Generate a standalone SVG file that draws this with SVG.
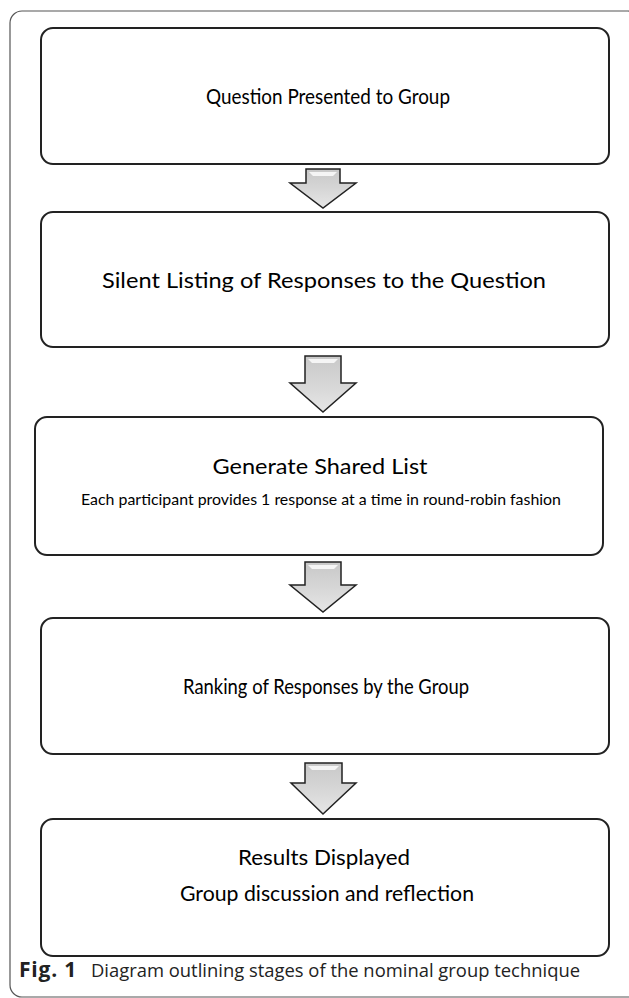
<svg xmlns="http://www.w3.org/2000/svg" width="629" height="998" viewBox="0 0 629 998">
<style>
.frame{fill:#fff;stroke:#555;stroke-width:1.2}
.box{fill:#fff;stroke:#222;stroke-width:2}
.arrow{fill:url(#ag);stroke:#222;stroke-width:1.5;stroke-linejoin:miter}
.hl{fill:#fafafa;stroke:none;opacity:0.9}
.t{font-family:Lato,"Open Sans","Liberation Sans",sans-serif;fill:#000;text-anchor:middle;font-size:22px}
.s{font-size:15px}
.cap{font-family:"Open Sans","Noto Sans","Liberation Sans",sans-serif;font-size:18.5px;fill:#222}
</style>
<defs>
<linearGradient id="ag" x1="0" y1="0" x2="0" y2="1">
<stop offset="0" stop-color="#c8c8c8"/>
<stop offset="0.5" stop-color="#d6d6d6"/>
<stop offset="1" stop-color="#e6e6e6"/>
</linearGradient>
</defs>
<rect class="frame" x="10" y="11" width="630" height="986" rx="12"/>
<g id="connectors">
<g id="arrow1">
<polygon class="arrow" points="306,169 340,169 340,183 356,183 323,208 290,183 306,183"/>
<polygon class="hl" points="309,172 337,172 333,176 313,176"/>
</g>
<g id="arrow2">
<polygon class="arrow" points="305,356 341,356 341,383 356,383 323,412 290,383 305,383"/>
<polygon class="hl" points="308,359 338,359 334,363 312,363"/>
</g>
<g id="arrow3">
<polygon class="arrow" points="305,562 341,562 341,585 356,585 323,612 290,585 305,585"/>
<polygon class="hl" points="308,565 338,565 334,569 312,569"/>
</g>
<g id="arrow4">
<polygon class="arrow" points="305,763 342,763 342,783 356,783 323,814 291,783 305,783"/>
<polygon class="hl" points="308,766 339,766 335,770 312,770"/>
</g>
</g>
<g id="node1">
<rect class="box" x="41" y="28" width="568" height="136" rx="12"/>
<text class="t" x="328" y="104" textLength="244" lengthAdjust="spacingAndGlyphs">Question Presented to Group</text>
</g>
<g id="node2">
<rect class="box" x="41" y="212" width="568" height="135" rx="12"/>
<text class="t" x="324" y="288" font-size="24" textLength="444" lengthAdjust="spacingAndGlyphs">Silent Listing of Responses to the Question</text>
</g>
<g id="node3">
<rect class="box" x="35" y="417" width="568" height="138" rx="12"/>
<text class="t" x="320" y="474" textLength="215" lengthAdjust="spacingAndGlyphs">Generate Shared List</text>
<text class="t s" x="321" y="505" textLength="480" lengthAdjust="spacingAndGlyphs">Each participant provides 1 response at a time in round-robin fashion</text>
</g>
<g id="node4">
<rect class="box" x="41" y="618" width="568" height="136" rx="12"/>
<text class="t" x="326" y="694" textLength="286" lengthAdjust="spacingAndGlyphs">Ranking of Responses by the Group</text>
</g>
<g id="node5">
<rect class="box" x="41" y="819" width="568" height="137" rx="12"/>
<text class="t" x="324" y="865" textLength="172" lengthAdjust="spacingAndGlyphs">Results Displayed</text>
<text class="t" x="327" y="901" textLength="294" lengthAdjust="spacingAndGlyphs">Group discussion and reflection</text>
</g>
<text class="cap" x="19" y="977"><tspan font-weight="bold" font-size="21" letter-spacing="0.8">Fig. 1</tspan><tspan x="91" textLength="489" lengthAdjust="spacingAndGlyphs">Diagram outlining stages of the nominal group technique</tspan></text>
</svg>
